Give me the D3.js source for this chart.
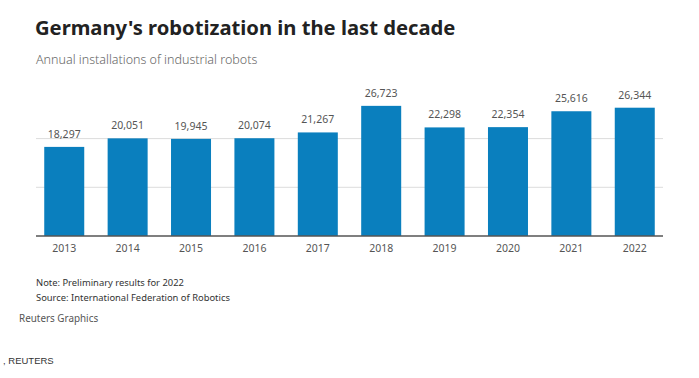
<!DOCTYPE html>
<html><head><meta charset="utf-8">
<script src="https://cdn.jsdelivr.net/npm/d3@7"></script>
<style>body{margin:0;background:#fff;} svg{display:block;}</style>
</head><body>
<svg id="c" width="699" height="378"></svg>
<script>
const years = ["2013","2014","2015","2016","2017","2018","2019","2020","2021","2022"];
const installs = [18297,20051,19945,20074,21267,26723,22298,22354,25616,26344];
const gridTicks = [10000,20000];

const svg = d3.select("#c");
const font = "'Source Sans Pro','Noto Sans',sans-serif";
const x = d3.scaleBand().domain(years).range([36,663]).paddingInner(0.369).paddingOuter(0.13);
const y = d3.scaleLinear().domain([0,10000]).range([236,187.3]);

svg.append("text").attr("x",35).attr("y",35).attr("font-family",font).attr("font-weight",700)
  .attr("font-size",20.2).attr("fill","#222").text("Germany's robotization in the last decade");
svg.append("text").attr("x",36).attr("y",64).attr("font-family",font).attr("font-weight",300)
  .attr("font-size",12.5).attr("fill","#666").text("Annual installations of industrial robots");

svg.append("g").selectAll("line").data(gridTicks).join("line")
  .attr("x1",36).attr("x2",663).attr("y1",d=>y(d)).attr("y2",d=>y(d))
  .attr("stroke","#dcdcdc").attr("stroke-width",1);

svg.append("g").selectAll("rect").data(installs).join("rect")
  .attr("x",(d,i)=>x(years[i])).attr("width",x.bandwidth())
  .attr("y",d=>y(d)).attr("height",d=>y(0)-y(d)).attr("fill","#0a7fbe");

svg.append("g").selectAll("text").data(installs).join("text")
  .attr("x",(d,i)=>x(years[i])+x.bandwidth()/2).attr("y",d=>y(d)-9)
  .attr("text-anchor","middle").attr("font-family",font).attr("font-size",10.5)
  .attr("fill","#555").text(d=>d3.format(",")(d));

const xAxis = svg.append("g").attr("transform","translate(0,236)")
  .call(d3.axisBottom(x).tickSize(0).tickPadding(9));
xAxis.select(".domain").attr("stroke","#555").attr("stroke-width",1.5).attr("d","M36,0H663");
xAxis.selectAll("text").attr("font-family",font).attr("font-size",10.5).attr("fill","#555");

svg.append("text").attr("x",36).attr("y",286).attr("font-family",font).attr("font-size",9.4)
  .attr("fill","#333").text("Note: Preliminary results for 2022");
svg.append("text").attr("x",36).attr("y",301).attr("font-family",font).attr("font-size",9.4)
  .attr("fill","#333").text("Source: International Federation of Robotics");
svg.append("text").attr("x",19).attr("y",322).attr("font-family",font).attr("font-size",9.9)
  .attr("fill","#555").text("Reuters Graphics");
svg.append("text").attr("x",3).attr("y",364).attr("font-family","'Liberation Sans',Arial,sans-serif").attr("font-size",9.5)
  .attr("fill","#333").text(", REUTERS");
</script>
</body></html>
